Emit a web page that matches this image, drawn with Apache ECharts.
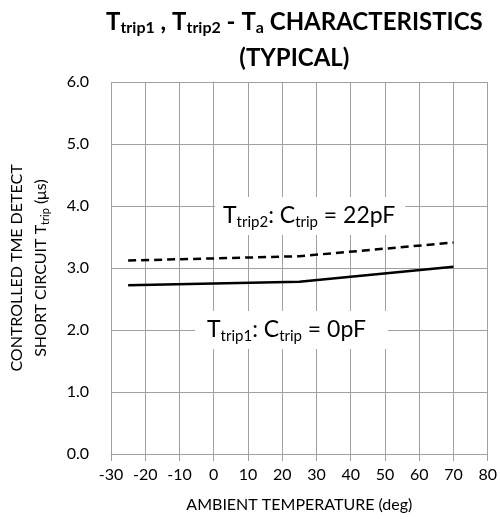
<!DOCTYPE html>
<html lang="en">
<head>
  <meta charset="UTF-8">
  <title>Ttrip - Ta characteristics</title>
  <style>
    html, body { margin: 0; padding: 0; background: #fff; }
    #chart { width: 500px; height: 519px; }
  </style>
</head>
<body>
  <div id="chart"></div>
  <script src="https://cdn.jsdelivr.net/npm/echarts@6/dist/echarts.min.js"></script>
  <script>
    // values
    const temps = [-25, 25, 70]
    const tTrip1 = [2.72, 2.78, 3.02]   // Ctrip = 0pF
    const tTrip2 = [3.12, 3.19, 3.41]   // Ctrip = 22pF

    const xTicks = { min: -30, max: 80, step: 10 }
    const yTicks = { min: 0, max: 6, step: 1 }

    const FONT = 'Lato'
    const gridColor = '#a0a0a0'

    function pairs(xs, ys) {
      return xs.map((x, i) => [x, ys[i]])
    }

    const chart = echarts.init(document.getElementById('chart'), null, { renderer: 'canvas' })

    // rich styles for the two boxed labels
    const labelRich = {
      m: { fontSize: 23, fontFamily: FONT, fill: '#000', lineHeight: 30 },
      s: { fontSize: 15, fontFamily: FONT, fill: '#000', lineHeight: 30, padding: [12, 0, 0, 0] }
    }

    const option = {
      backgroundColor: '#fff',
      animation: false,
      textStyle: { fontFamily: FONT },
      grid: { left: 111, right: 9, top: 82, bottom: 65 },
      xAxis: {
        type: 'value',
        min: xTicks.min, max: xTicks.max, interval: xTicks.step,
        name: 'AMBIENT TEMPERATURE (deg)',
        nameLocation: 'middle',
        nameGap: 43,
        nameTextStyle: { fontSize: 16, color: '#000', fontFamily: FONT },
        axisLine: { show: true, onZero: false, lineStyle: { color: gridColor } },
        axisTick: { show: true, length: 7, lineStyle: { color: gridColor } },
        axisLabel: { fontSize: 16, color: '#000', margin: 13, fontFamily: FONT },
        splitLine: { show: true, lineStyle: { color: gridColor, width: 1 } }
      },
      yAxis: {
        type: 'value',
        min: yTicks.min, max: yTicks.max, interval: yTicks.step,
        name: '{n|CONTROLLED TME DETECT}\n{n|SHORT CIRCUIT T}{s|trip}{n| (μs)}',
        nameLocation: 'middle',
        nameGap: 58,
        nameRotate: 90,
        nameTextStyle: {
          color: '#000',
          rich: {
            n: { fontSize: 16, color: '#000', fontFamily: FONT, lineHeight: 24 },
            s: { fontSize: 11, color: '#000', fontFamily: FONT, lineHeight: 24, padding: [8, 0, 0, 0] }
          }
        },
        axisLine: { show: true, lineStyle: { color: gridColor } },
        axisTick: { show: true, length: 7, lineStyle: { color: gridColor } },
        axisLabel: {
          fontSize: 16, color: '#000', margin: 22, fontFamily: FONT,
          formatter: v => v.toFixed(1)
        },
        splitLine: { show: true, lineStyle: { color: gridColor, width: 1 } }
      },
      series: [
        {
          name: 'Ttrip1',
          type: 'line',
          data: pairs(temps, tTrip1),
          showSymbol: false,
          lineStyle: { color: '#000', width: 2.5 },
          z: 5
        },
        {
          name: 'Ttrip2',
          type: 'line',
          data: pairs(temps, tTrip2),
          showSymbol: false,
          lineStyle: { color: '#000', width: 2.5, type: [8, 5] },
          z: 5
        }
      ],
      graphic: [
        {
          type: 'text',
          left: 296 - 190, top: 8,
          style: {
            text: '{b|T}{bs|trip1}{b| , T}{bs|trip2}{b| - T}{bs|a}{b| CHARACTERISTICS}\n{b|(TYPICAL)}',
            align: 'center',
            rich: {
              b: { fontSize: 24, fontWeight: 'bold', fontFamily: FONT, fill: '#000', lineHeight: 36, align: 'center' },
              bs: { fontSize: 16, fontWeight: 'bold', fontFamily: FONT, fill: '#000', lineHeight: 36, padding: [12, 0, 0, 0] }
            }
          }
        },
        {
          type: 'text',
          left: 215, top: 197,
          z: 10,
          style: {
            text: '{m|T}{s|trip2}{m|: C}{s|trip}{m| = 22pF}',
            backgroundColor: '#fff',
            padding: [4, 10, 4, 8],
            rich: labelRich
          }
        },
        {
          type: 'text',
          left: 195, top: 311,
          z: 10,
          style: {
            text: '{m|T}{s|trip1}{m|: C}{s|trip}{m| = 0pF}',
            backgroundColor: '#fff',
            padding: [4, 22, 4, 12],
            rich: labelRich
          }
        }
      ]
    }

    chart.setOption(option)
  </script>
</body>
</html>
